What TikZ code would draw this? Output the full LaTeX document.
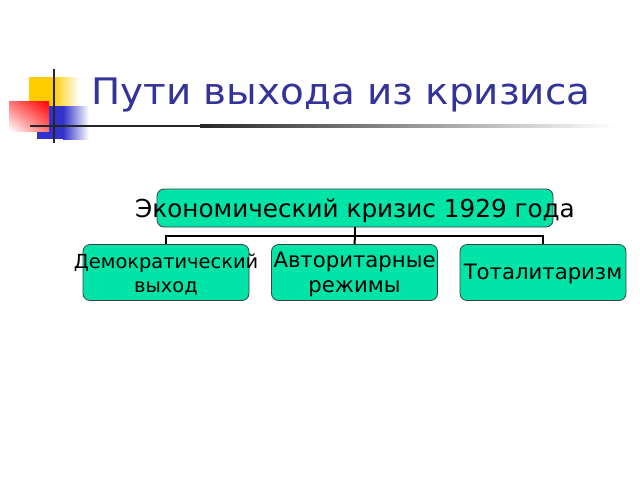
\documentclass[tikz,border=0pt]{standalone}
\usepackage{fontspec}
\setmainfont{DejaVu Sans}
\usepackage{tikz}
\usetikzlibrary{positioning, calc, shadings}
\definecolor{mint}{RGB}{0,228,168}
\definecolor{titleblue}{RGB}{51,51,153}
\definecolor{logoyellow}{RGB}{255,204,0}
\definecolor{logoblue}{RGB}{51,51,204}
\newcommand{\lbl}[2][-3pt]{\makebox[0pt]{\raisebox{#1}[\height][\depth]{\begin{tabular}{@{}c@{}}#2\end{tabular}}}}

\begin{document}
\begin{tikzpicture}[x=1pt, y=-1pt, line width=0.8pt]
    \tikzset{boxnode/.style={draw=black!75, fill=mint, rounded corners=7pt, inner sep=0pt},
             lab/.style={font=\fontsize{21.2}{25}\selectfont}}
    \useasboundingbox[fill=white] (0,0) rectangle (640,480);
    % logo squares
    \fill[logoyellow] (29,77) rectangle (53,106);
    \shade[left color=logoyellow, right color=white, draw=none] (53,77) rectangle (79,106);
    \fill[logoblue] (37,106) rectangle (63,139);
    \shade[left color=logoblue, right color=white, draw=none] (63,106) rectangle (89,139);
    \shade[upper right=red, upper left=red!55!white, lower right=red!55!white, lower left=white] (9,101) rectangle (49,131);
    % rules
    \fill[black!85] (30,124.8) rectangle (200,127.4);
    \shade[left color=black!85, right color=white, draw=none] (200,124.8) rectangle (614,127.4);
    \fill[black!85] (52.7,69) rectangle (55.3,143);
    % title
    \node[anchor=base west, inner sep=0pt, text=titleblue, font=\fontsize{36.5}{42}\selectfont] (title) at (91,104)
        {\scalebox{1.065}[1]{Пути выхода из кризиса}};
    % nodes
    \node[boxnode, minimum width=396pt, minimum height=38pt, font=\fontsize{24.7}{29}\selectfont] (crisis) at (355,208)
        {\lbl[-3.5pt]{Экономический кризис 1929 года}};
    \node[boxnode, minimum width=166pt, minimum height=56pt, font=\fontsize{19.4}{24}\selectfont] (dem) at (166,272.5)
        {\lbl[-3.5pt]{Демократический\\выход}};
    \node[boxnode, lab, minimum width=166pt, minimum height=56pt] (avt) at (354.5,272.5)
        {\lbl[-2.5pt]{Авторитарные\\режимы}};
    \node[boxnode, lab, minimum width=166pt, minimum height=56pt] (tot) at (543,272.5)
        {\lbl[-2pt]{Тоталитаризм}};
    % connectors
    \draw[line width=2pt] (crisis.south) -- ++(0,8.5) coordinate (j);
    \draw[line width=2pt] (dem.north) |- (j) -| (tot.north);
    \draw[line width=2pt] (j) -- (avt.north);
\end{tikzpicture}
\end{document}
